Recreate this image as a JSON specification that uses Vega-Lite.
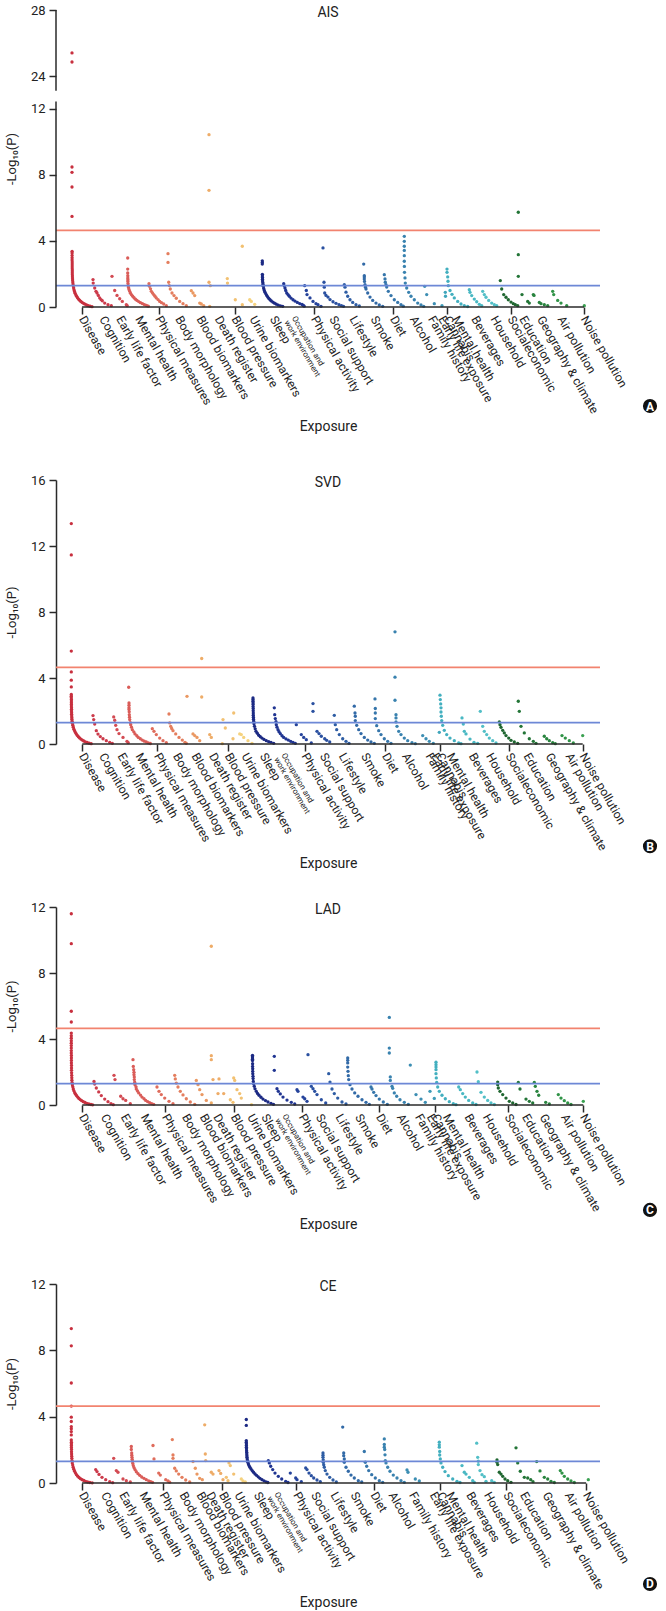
{
"$schema":"https://vega.github.io/schema/vega-lite/v6.json",
"background":"white",
"padding":{"left":5,"top":4,"right":2,"bottom":2},
"config":{"view":{"stroke":null},"font":"Roboto","axis":{"grid":false,"domainColor":"#2a2a2a","tickColor":"#2a2a2a","labelColor":"#222","titleColor":"#222","domainWidth":1.5,"tickWidth":1.5}},
"datasets":{
"L":[{"t":"Disease","a":26.1,"b":26.3,"c":26.3,"d":26.1},{"t":"Cognition","a":46.5,"b":46.3,"c":48,"d":48.2},{"t":"Early life factor","a":63.4,"b":64.7,"c":68,"d":66.4},{"t":"Mental health","a":82.5,"b":82.7,"c":88,"d":86.8},{"t":"Physical measures","a":102.5,"b":101.3,"c":109.3,"d":106.7},{"t":"Body morphology","a":122.4,"b":120.3,"c":129.3,"d":126.6},{"t":"Blood biomarkers","a":143.6,"b":138.7,"c":147,"d":143.6},{"t":"Death register","a":161.9,"b":156.3,"c":160.5,"d":153.4},{"t":"Blood pressure","a":178.8,"b":172,"c":178,"d":166.1},{"t":"Urine biomarkers","a":196.7,"b":188.7,"c":194.5,"d":181.8},{"t":"Sleep","a":217,"b":207,"c":208.5,"d":200.9},{"t":"Physical activity","a":258.2,"b":248.7,"c":246,"d":240.4},{"t":"Social support","a":276.4,"b":267,"c":263,"d":258.2},{"t":"Lifestyle","a":296.8,"b":286,"c":282.7,"d":277.7},{"t":"Smoke","a":317.6,"b":308.3,"c":302.3,"d":297.6},{"t":"Diet","a":337.1,"b":329.3,"c":323.3,"d":317.6},{"t":"Alcohol","a":357,"b":349.3,"c":344,"d":335.8},{"t":"Family history","a":375.3,"b":372.7,"c":362.3,"d":356.2},{"t":"Early life exposure","a":385.4,"b":378.5,"c":374,"d":377},{"t":"Cannabis","a":391,"b":383.5,"c":379,"d":384},{"t":"Mental health","a":399.5,"b":394,"c":390,"d":393.5},{"t":"Beverages","a":418.5,"b":416,"c":411.7,"d":413.4},{"t":"Household","a":437.6,"b":433.3,"c":430,"d":431.3},{"t":"Socialeconomic","a":454.6,"b":452.7,"c":451.7,"d":450.4},{"t":"Education","a":466.5,"b":470.7,"c":469.3,"d":467.3},{"t":"Geography & climate","a":484.3,"b":492.7,"c":486.7,"d":489.8},{"t":"Air pollution","a":504.7,"b":512.7,"c":508.3,"d":511.9},{"t":"Noise pollution","a":528,"b":526.7,"c":527.3,"d":530.1}],
"A":[{"x":16,"y":25.4},{"x":16,"y":24.85},{"x":16,"y":8.48},{"x":16,"y":8.16},{"x":16,"y":7.27},{"x":16,"y":5.49},{"x":16.1,"y":3.37},{"x":16.1,"y":3.27},{"x":16.1,"y":3.12},{"x":16.1,"y":2.98},{"x":16.1,"y":2.85},{"x":16.2,"y":2.72},{"x":16.2,"y":2.6},{"x":16.2,"y":2.48},{"x":16.2,"y":2.36},{"x":16.3,"y":2.24},{"x":16.3,"y":2.12},{"x":16.3,"y":2},{"x":16.4,"y":1.88},{"x":16.5,"y":1.76},{"x":16.6,"y":1.64},{"x":16.8,"y":1.52},{"x":17,"y":1.4},{"x":17.3,"y":1.28},{"x":17.6,"y":1.16},{"x":18,"y":1.05},{"x":18.5,"y":0.94},{"x":19.1,"y":0.84},{"x":19.8,"y":0.74},{"x":20.6,"y":0.65},{"x":21.5,"y":0.56},{"x":22.5,"y":0.48},{"x":23.6,"y":0.41},{"x":24.8,"y":0.34},{"x":26.1,"y":0.28},{"x":27.5,"y":0.22},{"x":29,"y":0.17},{"x":30.6,"y":0.12},{"x":32.3,"y":0.08},{"x":34.1,"y":0.05},{"x":36,"y":0.02},
{"x":37,"y":1.66},{"x":37.2,"y":1.45},{"x":38.7,"y":1.15},{"x":40,"y":0.95},{"x":41,"y":0.85},{"x":42.3,"y":0.7},{"x":43.7,"y":0.55},{"x":45,"y":0.45},{"x":46.3,"y":0.38},{"x":48.7,"y":0.24},{"x":52,"y":0.14},{"x":55.3,"y":0.08},
{"x":56,"y":1.86},{"x":58.7,"y":1},{"x":61,"y":0.7},{"x":63.7,"y":0.5},{"x":66.3,"y":0.34},{"x":70.3,"y":0.14},{"x":71.2,"y":0.08},
{"x":71.7,"y":2.97},{"x":71.7,"y":2.3},{"x":71.7,"y":2.06},{"x":71.8,"y":1.9},{"x":71.8,"y":1.76},{"x":71.9,"y":1.65},{"x":71.9,"y":1.55},{"x":72,"y":1.42},{"x":72.2,"y":1.3},{"x":72.5,"y":1.18},{"x":73,"y":1.06},{"x":73.7,"y":0.95},{"x":74.5,"y":0.84},{"x":75.5,"y":0.74},{"x":76.7,"y":0.65},{"x":78,"y":0.56},{"x":79.5,"y":0.47},{"x":81,"y":0.4},{"x":82.7,"y":0.33},{"x":84.5,"y":0.26},{"x":86.5,"y":0.2},{"x":88.5,"y":0.14},{"x":90.5,"y":0.09},{"x":92.3,"y":0.05},
{"x":93,"y":1.41},{"x":93.5,"y":1.25},{"x":94.5,"y":1.1},{"x":95.3,"y":0.95},{"x":96.5,"y":0.85},{"x":97.7,"y":0.75},{"x":99,"y":0.65},{"x":100.3,"y":0.55},{"x":102,"y":0.45},{"x":103.7,"y":0.34},{"x":105.5,"y":0.26},{"x":107.7,"y":0.18},{"x":110.3,"y":0.08},
{"x":112,"y":3.23},{"x":112,"y":2.7},{"x":112.7,"y":1.5},{"x":113.3,"y":1.3},{"x":114.3,"y":1.09},{"x":116,"y":0.85},{"x":118,"y":0.69},{"x":120.3,"y":0.53},{"x":123.7,"y":0.34},{"x":127,"y":0.2},{"x":130.3,"y":0.08},
{"x":135.3,"y":0.99},{"x":137,"y":0.85},{"x":138.7,"y":0.69},{"x":143.7,"y":0.24},{"x":145.3,"y":0.18},{"x":147.7,"y":0.08},
{"x":153,"y":10.44},{"x":153,"y":7.07},{"x":153,"y":1.5},{"x":154.3,"y":1.29},{"x":153.7,"y":0.04},
{"x":171.3,"y":1.72},{"x":171.5,"y":1.45},{"x":179.3,"y":0.44},{"x":186.3,"y":3.68},{"x":186.3,"y":0.14},
{"x":193.7,"y":0.44},{"x":195.3,"y":0.34},{"x":198.7,"y":0.16},
{"x":206.3,"y":2.8},{"x":206.3,"y":2.7},{"x":206.3,"y":2.6},{"x":206.4,"y":1.98},{"x":206.4,"y":1.88},{"x":206.5,"y":1.78},{"x":206.5,"y":1.68},{"x":206.6,"y":1.58},{"x":206.8,"y":1.48},{"x":207,"y":1.38},{"x":207.3,"y":1.25},{"x":207.7,"y":1.12},{"x":208.3,"y":1},{"x":209,"y":0.9},{"x":209.8,"y":0.8},{"x":210.7,"y":0.7},{"x":211.7,"y":0.61},{"x":212.8,"y":0.52},{"x":214,"y":0.44},{"x":215.3,"y":0.37},{"x":216.8,"y":0.3},{"x":218.5,"y":0.23},{"x":220.3,"y":0.17},{"x":222.3,"y":0.11},{"x":224.5,"y":0.07},{"x":226.7,"y":0.04},
{"x":227.7,"y":1.41},{"x":228.3,"y":1.28},{"x":229,"y":1.15},{"x":229.7,"y":1},{"x":230.7,"y":0.85},{"x":232,"y":0.75},{"x":233.3,"y":0.65},{"x":235,"y":0.54},{"x":237,"y":0.44},{"x":239,"y":0.36},{"x":241.3,"y":0.28},{"x":243.7,"y":0.21},{"x":246,"y":0.15},{"x":247.3,"y":0.09},{"x":248.2,"y":0.05},
{"x":248.7,"y":1.29},{"x":250.3,"y":1},{"x":251,"y":0.75},{"x":254,"y":0.55},{"x":257,"y":0.34},{"x":260,"y":0.2},{"x":262,"y":0.14},{"x":265,"y":0.04},
{"x":267,"y":3.58},{"x":268,"y":1.5},{"x":268.3,"y":1.2},{"x":268.7,"y":0.85},{"x":270,"y":0.7},{"x":272,"y":0.6},{"x":274,"y":0.45},{"x":277,"y":0.32},{"x":280,"y":0.22},{"x":283,"y":0.14},{"x":285.5,"y":0.08},{"x":287.5,"y":0.04},
{"x":288.3,"y":1.35},{"x":289,"y":1.2},{"x":290,"y":0.9},{"x":291.7,"y":0.65},{"x":294,"y":0.44},{"x":296.7,"y":0.28},{"x":300,"y":0.14},{"x":303.3,"y":0.06},
{"x":307.7,"y":2.6},{"x":308.3,"y":1.9},{"x":308.3,"y":1.82},{"x":308.3,"y":1.7},{"x":308.5,"y":1.55},{"x":309,"y":1.35},{"x":309.5,"y":1.2},{"x":310,"y":1.09},{"x":311.7,"y":0.85},{"x":314,"y":0.6},{"x":316.7,"y":0.4},{"x":320,"y":0.24},{"x":323.3,"y":0.12},{"x":326.7,"y":0.04},
{"x":328.3,"y":1.96},{"x":329,"y":1.7},{"x":329.3,"y":1.5},{"x":330,"y":1.35},{"x":330.7,"y":1.21},{"x":332.3,"y":0.95},{"x":335,"y":0.69},{"x":338.3,"y":0.44},{"x":341.7,"y":0.28},{"x":345,"y":0.14},{"x":347.3,"y":0.05},
{"x":348.3,"y":4.28},{"x":348.3,"y":3.98},{"x":348.3,"y":3.68},{"x":348.3,"y":3.43},{"x":348.3,"y":3.11},{"x":348.3,"y":2.77},{"x":348.4,"y":2.46},{"x":348.5,"y":2.1},{"x":349,"y":1.76},{"x":349.3,"y":1.45},{"x":350.7,"y":1.15},{"x":352.7,"y":0.89},{"x":355,"y":0.65},{"x":358.3,"y":0.44},{"x":361.7,"y":0.24},{"x":365,"y":0.12},{"x":367.7,"y":0.04},
{"x":368.7,"y":1.25},{"x":370.7,"y":0.75},{"x":378.3,"y":0.2},
{"x":386,"y":0.08},
{"x":389.3,"y":0.89},{"x":389.5,"y":0.65},
{"x":391,"y":2.3},{"x":391,"y":2.1},{"x":391.7,"y":1.82},{"x":392,"y":1.56},{"x":392.3,"y":1.29},{"x":394,"y":1},{"x":396,"y":0.77},{"x":398.3,"y":0.55},{"x":401.7,"y":0.34},{"x":405,"y":0.18},{"x":408.3,"y":0.08},{"x":411.7,"y":0.03},
{"x":413.3,"y":1.05},{"x":414,"y":0.89},{"x":415.7,"y":0.69},{"x":418.3,"y":0.48},{"x":420.7,"y":0.32},{"x":423.3,"y":0.16},{"x":425.7,"y":0.08},
{"x":426.7,"y":0.95},{"x":428.3,"y":0.75},{"x":430,"y":0.59},{"x":432.7,"y":0.4},{"x":435.7,"y":0.24},{"x":438.3,"y":0.14},{"x":440.7,"y":0.08},
{"x":444.3,"y":1.6},{"x":445.7,"y":1.09},{"x":447.7,"y":0.75},{"x":450,"y":0.59},{"x":452.3,"y":0.44},{"x":455,"y":0.3},{"x":457.3,"y":0.2},{"x":459.3,"y":0.14},{"x":461.7,"y":0.08},
{"x":462.3,"y":5.74},{"x":462.3,"y":3.17},{"x":462.3,"y":1.86},{"x":466,"y":0.75},{"x":471.7,"y":0.34},{"x":473.3,"y":0.24},
{"x":477.3,"y":0.75},{"x":478,"y":0.7},{"x":483.3,"y":0.28},{"x":485,"y":0.2},{"x":488.3,"y":0.14},{"x":491.7,"y":0.08},
{"x":496.7,"y":0.95},{"x":497.7,"y":0.75},{"x":501.7,"y":0.4},{"x":505,"y":0.24},{"x":510.7,"y":0.08},
{"x":528.3,"y":0.08}],
"B":[{"x":15.3,"y":13.36},{"x":15.3,"y":11.46},{"x":15.3,"y":5.63},{"x":15.3,"y":4.37},{"x":15.3,"y":3.87},{"x":15.3,"y":3.46},{"x":15.3,"y":3},{"x":15.3,"y":2.9},{"x":15.3,"y":2.8},{"x":15.4,"y":2.7},{"x":15.4,"y":2.6},{"x":15.4,"y":2.5},{"x":15.4,"y":2.4},{"x":15.4,"y":2.3},{"x":15.5,"y":2.2},{"x":15.5,"y":2.1},{"x":15.5,"y":2},{"x":15.6,"y":1.9},{"x":15.6,"y":1.8},{"x":15.7,"y":1.7},{"x":15.8,"y":1.6},{"x":15.9,"y":1.5},{"x":16.1,"y":1.38},{"x":16.4,"y":1.26},{"x":16.8,"y":1.14},{"x":17.3,"y":1.02},{"x":17.9,"y":0.9},{"x":18.6,"y":0.8},{"x":19.4,"y":0.7},{"x":20.3,"y":0.61},{"x":21.3,"y":0.52},{"x":22.4,"y":0.44},{"x":23.6,"y":0.37},{"x":24.9,"y":0.3},{"x":26.3,"y":0.24},{"x":27.8,"y":0.18},{"x":29.4,"y":0.13},{"x":31.2,"y":0.09},{"x":33.2,"y":0.05},{"x":35.2,"y":0.02},
{"x":37,"y":1.72},{"x":37.7,"y":1.48},{"x":38.7,"y":1.21},{"x":40.3,"y":0.81},{"x":42,"y":0.6},{"x":44.3,"y":0.45},{"x":47,"y":0.32},{"x":50.3,"y":0.2},{"x":53.7,"y":0.1},{"x":56.3,"y":0.04},
{"x":57.7,"y":1.64},{"x":58.7,"y":1.44},{"x":59.7,"y":1.13},{"x":61,"y":0.87},{"x":63,"y":0.63},{"x":67,"y":0.4},{"x":71,"y":0.16},{"x":72.2,"y":0.08},
{"x":72.7,"y":3.44},{"x":73,"y":2.49},{"x":73,"y":2.35},{"x":73,"y":2.2},{"x":73,"y":2.09},{"x":73.2,"y":1.95},{"x":73.3,"y":1.78},{"x":73.5,"y":1.62},{"x":73.7,"y":1.48},{"x":74.3,"y":1.3},{"x":74.7,"y":1.17},{"x":75.5,"y":1.02},{"x":76.3,"y":0.87},{"x":77.8,"y":0.74},{"x":79,"y":0.61},{"x":80.8,"y":0.5},{"x":82.3,"y":0.4},{"x":84.3,"y":0.32},{"x":86.3,"y":0.24},{"x":88.3,"y":0.17},{"x":90.3,"y":0.12},{"x":92.3,"y":0.07},{"x":94.3,"y":0.03},
{"x":96.3,"y":0.93},{"x":98,"y":0.77},{"x":100.3,"y":0.57},{"x":103.7,"y":0.36},{"x":107,"y":0.2},{"x":110.3,"y":0.08},
{"x":113,"y":1.82},{"x":113.7,"y":1.28},{"x":114.7,"y":1.07},{"x":115.7,"y":0.94},{"x":117,"y":0.81},{"x":119.7,"y":0.61},{"x":123,"y":0.4},{"x":126.3,"y":0.24},{"x":129,"y":0.1},{"x":130.3,"y":0.04},
{"x":131,"y":2.89},{"x":137,"y":0.61},{"x":138.7,"y":0.51},{"x":141,"y":0.4},{"x":143.7,"y":0.2},
{"x":145.7,"y":5.18},{"x":145.7,"y":2.85},{"x":153.7,"y":0.57},{"x":155.3,"y":0.4},
{"x":166.3,"y":0.02},{"x":167,"y":1.48},{"x":169.3,"y":0.97},{"x":177,"y":0.32},{"x":177.7,"y":1.88},
{"x":183.7,"y":0.61},{"x":185.3,"y":0.57},{"x":187.7,"y":0.4},{"x":192,"y":0.2},{"x":196,"y":0.04},
{"x":197,"y":2.79},{"x":197,"y":2.69},{"x":197,"y":2.59},{"x":197.1,"y":2.49},{"x":197.1,"y":2.39},{"x":197.1,"y":2.27},{"x":197.2,"y":2.15},{"x":197.2,"y":2.02},{"x":197.3,"y":1.88},{"x":197.3,"y":1.75},{"x":197.4,"y":1.62},{"x":197.5,"y":1.5},{"x":197.7,"y":1.38},{"x":198,"y":1.22},{"x":198.5,"y":1.07},{"x":199.2,"y":0.92},{"x":200,"y":0.77},{"x":201.3,"y":0.65},{"x":202.7,"y":0.53},{"x":204.3,"y":0.44},{"x":206,"y":0.36},{"x":208,"y":0.28},{"x":210.3,"y":0.2},{"x":212.7,"y":0.14},{"x":215,"y":0.1},{"x":217.7,"y":0.04},
{"x":218.3,"y":2.19},{"x":218.7,"y":1.78},{"x":219.3,"y":1.54},{"x":220,"y":1.35},{"x":220.3,"y":1.17},{"x":221,"y":1.02},{"x":222,"y":0.87},{"x":223,"y":0.75},{"x":224.3,"y":0.63},{"x":226,"y":0.5},{"x":227.7,"y":0.4},{"x":230,"y":0.31},{"x":232.3,"y":0.24},{"x":234.7,"y":0.16},{"x":237,"y":0.1},{"x":239.3,"y":0.04},
{"x":240.3,"y":1.17},{"x":245.3,"y":0.57},{"x":247.7,"y":0.4},{"x":250.3,"y":0.26},{"x":255.3,"y":0.06},
{"x":257,"y":2.45},{"x":257,"y":1.98},{"x":261,"y":0.77},{"x":263,"y":0.63},{"x":265.3,"y":0.47},{"x":268.7,"y":0.32},{"x":270.7,"y":0.22},{"x":273.7,"y":0.12},
{"x":278.3,"y":1.74},{"x":279.3,"y":1.17},{"x":280.7,"y":0.87},{"x":283.3,"y":0.57},{"x":286.7,"y":0.32},{"x":290,"y":0.16},{"x":293,"y":0.04},
{"x":298.3,"y":2.29},{"x":299,"y":1.88},{"x":299.3,"y":1.68},{"x":299.3,"y":1.42},{"x":300.7,"y":1.13},{"x":302.7,"y":0.87},{"x":305,"y":0.63},{"x":308.3,"y":0.4},{"x":311.7,"y":0.24},{"x":315,"y":0.12},{"x":318.3,"y":0.04},
{"x":319,"y":2.73},{"x":319.3,"y":2.15},{"x":319.3,"y":1.88},{"x":319.3,"y":1.54},{"x":320.7,"y":1.11},{"x":322.7,"y":0.81},{"x":325,"y":0.57},{"x":328.3,"y":0.32},{"x":331.7,"y":0.16},{"x":335,"y":0.04},
{"x":339,"y":6.8},{"x":339,"y":4.05},{"x":339,"y":2.65},{"x":340,"y":1.78},{"x":340,"y":1.58},{"x":340,"y":1.34},{"x":341,"y":1.07},{"x":342.7,"y":0.77},{"x":345,"y":0.57},{"x":348.3,"y":0.36},{"x":351.7,"y":0.2},{"x":356,"y":0.08},{"x":359.3,"y":0.02},
{"x":366.7,"y":0.51},{"x":370,"y":0.32},{"x":373.3,"y":0.16},{"x":377.3,"y":0.04},
{"x":383.3,"y":0.71},
{"x":384,"y":2.96},{"x":384.3,"y":2.69},{"x":384.7,"y":2.43},{"x":385,"y":2.19},{"x":385,"y":1.94},{"x":385.3,"y":1.68},{"x":385.7,"y":1.42},{"x":386.7,"y":1.13},{"x":388.3,"y":0.83},{"x":390.7,"y":0.57},{"x":394,"y":0.36},{"x":398.3,"y":0.2},{"x":402.7,"y":0.06},{"x":405,"y":0.02},
{"x":406,"y":1.58},{"x":407.3,"y":1.21},{"x":408.3,"y":0.77},{"x":410,"y":0.61},{"x":414,"y":0.3},{"x":418,"y":0.1},{"x":421.7,"y":0.04},
{"x":424.3,"y":1.98},{"x":426.7,"y":1.07},{"x":428.3,"y":0.77},{"x":430.7,"y":0.57},{"x":433.3,"y":0.36},{"x":436.7,"y":0.2},{"x":440,"y":0.06},
{"x":443.3,"y":1.34},{"x":444,"y":1.17},{"x":445,"y":1.01},{"x":446.7,"y":0.83},{"x":448.3,"y":0.67},{"x":450,"y":0.51},{"x":452.7,"y":0.36},{"x":455,"y":0.22},{"x":458.3,"y":0.12},{"x":461.7,"y":0.04},
{"x":462.3,"y":2.59},{"x":463.3,"y":1.98},{"x":465,"y":1.07},{"x":468.3,"y":0.67},{"x":473.3,"y":0.32},{"x":477.3,"y":0.16},{"x":480,"y":0.04},
{"x":488.3,"y":0.47},{"x":490.7,"y":0.32},{"x":493.3,"y":0.2},{"x":496.7,"y":0.08},{"x":499.3,"y":0.02},
{"x":506,"y":0.51},{"x":509.3,"y":0.36},{"x":513.3,"y":0.2},{"x":517.3,"y":0.06},
{"x":526.7,"y":0.51}],
"C":[{"x":15.3,"y":11.59},{"x":15.3,"y":9.78},{"x":15.3,"y":5.68},{"x":15.3,"y":5.03},{"x":15.3,"y":4.36},{"x":15.3,"y":4.2},{"x":15.3,"y":4.05},{"x":15.3,"y":3.9},{"x":15.3,"y":3.75},{"x":15.3,"y":3.6},{"x":15.3,"y":3.45},{"x":15.3,"y":3.3},{"x":15.3,"y":3.15},{"x":15.4,"y":3},{"x":15.4,"y":2.85},{"x":15.4,"y":2.7},{"x":15.4,"y":2.55},{"x":15.5,"y":2.4},{"x":15.5,"y":2.25},{"x":15.5,"y":2.1},{"x":15.6,"y":1.95},{"x":15.7,"y":1.8},{"x":15.8,"y":1.65},{"x":15.9,"y":1.5},{"x":16.1,"y":1.36},{"x":16.4,"y":1.22},{"x":16.8,"y":1.1},{"x":17.3,"y":0.97},{"x":17.9,"y":0.86},{"x":18.7,"y":0.75},{"x":19.6,"y":0.65},{"x":20.6,"y":0.56},{"x":21.7,"y":0.48},{"x":22.9,"y":0.4},{"x":24.2,"y":0.33},{"x":25.7,"y":0.26},{"x":27.3,"y":0.2},{"x":29,"y":0.15},{"x":30.9,"y":0.1},{"x":32.9,"y":0.06},{"x":35,"y":0.03},{"x":36.7,"y":0.01},
{"x":38,"y":1.43},{"x":38.7,"y":1.27},{"x":40.3,"y":1.03},{"x":42.7,"y":0.79},{"x":45.3,"y":0.57},{"x":48.7,"y":0.36},{"x":52,"y":0.2},{"x":55,"y":0.08},{"x":57.3,"y":0.02},
{"x":58,"y":1.8},{"x":59,"y":1.54},{"x":64.7,"y":0.53},{"x":67,"y":0.38},{"x":69.7,"y":0.28},{"x":74.3,"y":0.08},
{"x":77,"y":2.75},{"x":77.3,"y":2.34},{"x":77.7,"y":2.14},{"x":78,"y":1.98},{"x":78,"y":1.84},{"x":78.3,"y":1.69},{"x":78.3,"y":1.54},{"x":78.7,"y":1.38},{"x":79,"y":1.23},{"x":80,"y":1.1},{"x":80.3,"y":0.97},{"x":81.5,"y":0.85},{"x":82.7,"y":0.73},{"x":84.5,"y":0.6},{"x":86,"y":0.48},{"x":88,"y":0.38},{"x":89.7,"y":0.28},{"x":91.7,"y":0.2},{"x":93.7,"y":0.14},{"x":95.7,"y":0.08},{"x":97.7,"y":0.04},
{"x":101,"y":1.09},{"x":103,"y":0.83},{"x":105.3,"y":0.63},{"x":108.7,"y":0.42},{"x":113,"y":0.22},{"x":117,"y":0.08},
{"x":118.7,"y":1.8},{"x":119.3,"y":1.58},{"x":120.3,"y":1.33},{"x":122,"y":1.09},{"x":124.3,"y":0.83},{"x":127,"y":0.61},{"x":130.3,"y":0.38},{"x":134.3,"y":0.18},{"x":138.7,"y":0.04},
{"x":140.3,"y":1.49},{"x":142,"y":1.23},{"x":143.7,"y":0.93},{"x":146,"y":0.63},{"x":150.3,"y":0.28},
{"x":155.3,"y":9.62},{"x":155.3,"y":2.99},{"x":155.3,"y":2.75},{"x":157,"y":1.54},{"x":155.3,"y":0.12},{"x":163,"y":1.58},{"x":162,"y":0.69},{"x":167.7,"y":0.69},
{"x":174.3,"y":0.32},{"x":177,"y":0.16},{"x":177.7,"y":1.64},{"x":178.7,"y":1.49},{"x":181,"y":0.93},{"x":183.7,"y":0.69},{"x":185.3,"y":0.42},
{"x":195.5,"y":0.02},
{"x":196.5,"y":3.01},{"x":196.5,"y":2.93},{"x":196.5,"y":2.85},{"x":196.5,"y":2.77},{"x":196.5,"y":2.69},{"x":196.6,"y":2.5},{"x":196.6,"y":2.34},{"x":196.7,"y":2.2},{"x":196.7,"y":2.04},{"x":196.8,"y":1.9},{"x":197,"y":1.74},{"x":197.1,"y":1.6},{"x":197.3,"y":1.43},{"x":197.7,"y":1.28},{"x":198.3,"y":1.13},{"x":199,"y":0.98},{"x":200.3,"y":0.83},{"x":201.5,"y":0.7},{"x":203,"y":0.59},{"x":205,"y":0.47},{"x":207,"y":0.36},{"x":209.5,"y":0.27},{"x":212,"y":0.18},{"x":215,"y":0.1},{"x":217.5,"y":0.04},
{"x":218.3,"y":2.95},{"x":218.3,"y":2.1},{"x":221,"y":0.99},{"x":222.3,"y":0.83},{"x":224.3,"y":0.67},{"x":227,"y":0.48},{"x":231,"y":0.3},{"x":235.3,"y":0.16},{"x":238.7,"y":0.06},
{"x":241,"y":0.93},{"x":242,"y":0.83},{"x":247,"y":0.48},{"x":248.7,"y":0.38},{"x":251,"y":0.22},
{"x":252,"y":3.05},{"x":255.3,"y":1.13},{"x":257,"y":0.99},{"x":258.7,"y":0.83},{"x":261,"y":0.63},{"x":265.3,"y":0.32},{"x":269.7,"y":0.12},
{"x":272.7,"y":1.9},{"x":274,"y":1.39},{"x":276,"y":0.97},{"x":278.3,"y":0.69},{"x":281.7,"y":0.42},{"x":286,"y":0.18},{"x":290,"y":0.06},
{"x":291.7,"y":2.85},{"x":291.7,"y":2.71},{"x":291.7,"y":2.55},{"x":291.7,"y":2.3},{"x":292,"y":2.04},{"x":292.3,"y":1.78},{"x":292.7,"y":1.54},{"x":294,"y":1.23},{"x":296,"y":0.97},{"x":298.7,"y":0.73},{"x":302,"y":0.53},{"x":306,"y":0.32},{"x":310,"y":0.16},{"x":313.3,"y":0.04},
{"x":315,"y":1.09},{"x":316,"y":0.97},{"x":317.7,"y":0.77},{"x":320,"y":0.57},{"x":323.3,"y":0.36},{"x":327.3,"y":0.18},{"x":331.3,"y":0.04},
{"x":333.3,"y":5.31},{"x":333.3,"y":3.45},{"x":333.3,"y":3.15},{"x":334.3,"y":1.7},{"x":334.3,"y":1.49},{"x":336,"y":1.13},{"x":336.7,"y":1.01},{"x":338.3,"y":0.73},{"x":340.7,"y":0.53},{"x":344,"y":0.32},{"x":348.3,"y":0.16},{"x":352.3,"y":0.04},
{"x":354.3,"y":2.42},{"x":360,"y":0.63},{"x":365,"y":0.36},{"x":369.3,"y":0.16},
{"x":374,"y":0.83},{"x":378.3,"y":0.4},
{"x":380,"y":2.59},{"x":380,"y":2.44},{"x":380,"y":2.3},{"x":380,"y":2.14},{"x":380,"y":1.9},{"x":380.3,"y":1.64},{"x":380.7,"y":1.37},{"x":381.7,"y":1.09},{"x":383.3,"y":0.83},{"x":386,"y":0.59},{"x":389.3,"y":0.38},{"x":393.3,"y":0.2},{"x":397.3,"y":0.08},{"x":400,"y":0.02},
{"x":402.7,"y":1.09},{"x":404.3,"y":0.93},{"x":406.7,"y":0.69},{"x":409.3,"y":0.48},{"x":412.7,"y":0.28},{"x":416.7,"y":0.12},{"x":420,"y":0.03},
{"x":421,"y":2},{"x":422.3,"y":1.41},{"x":425,"y":0.77},{"x":428.3,"y":0.48},{"x":431.7,"y":0.28},{"x":435,"y":0.12},{"x":438.3,"y":0.03},
{"x":441.7,"y":1.39},{"x":441.7,"y":1.23},{"x":442.3,"y":1.03},{"x":444,"y":0.83},{"x":446.7,"y":0.63},{"x":450,"y":0.42},{"x":453.3,"y":0.22},{"x":456.7,"y":0.12},{"x":460,"y":0.03},
{"x":462.3,"y":1.37},{"x":464,"y":0.97},{"x":470,"y":0.36},{"x":473.3,"y":0.22},{"x":476.7,"y":0.12},
{"x":478.3,"y":1.37},{"x":479.3,"y":1.13},{"x":481,"y":0.83},{"x":482.7,"y":0.59},{"x":489.7,"y":0.16},{"x":493.3,"y":0.06},
{"x":502.3,"y":0.63},{"x":505,"y":0.42},{"x":508.3,"y":0.26},{"x":511.7,"y":0.12},{"x":515,"y":0.03},
{"x":527.3,"y":0.22}],
"D":[{"x":15.3,"y":9.31},{"x":15.3,"y":8.27},{"x":15.3,"y":6.03},{"x":15.3,"y":4.64},{"x":15.3,"y":3.97},{"x":15.3,"y":3.71},{"x":15.3,"y":3.4},{"x":15.3,"y":3.27},{"x":15.3,"y":3.1},{"x":15.3,"y":2.9},{"x":15.3,"y":2.6},{"x":15.4,"y":2.46},{"x":15.4,"y":2.36},{"x":15.4,"y":2.26},{"x":15.4,"y":2.14},{"x":15.5,"y":2.02},{"x":15.5,"y":1.88},{"x":15.6,"y":1.75},{"x":15.7,"y":1.62},{"x":15.8,"y":1.49},{"x":16,"y":1.35},{"x":16.3,"y":1.21},{"x":16.7,"y":1.08},{"x":17.2,"y":0.95},{"x":17.8,"y":0.83},{"x":18.6,"y":0.71},{"x":19.5,"y":0.6},{"x":20.5,"y":0.5},{"x":21.7,"y":0.41},{"x":23,"y":0.33},{"x":24.5,"y":0.26},{"x":26.1,"y":0.2},{"x":27.8,"y":0.15},{"x":29.6,"y":0.1},{"x":31.6,"y":0.06},{"x":33.8,"y":0.03},{"x":36.2,"y":0.01},
{"x":39.7,"y":0.81},{"x":41,"y":0.69},{"x":43,"y":0.52},{"x":46,"y":0.34},{"x":49.7,"y":0.2},{"x":53.7,"y":0.08},{"x":56.7,"y":0.02},
{"x":57.7,"y":1.49},{"x":60.3,"y":0.75},{"x":62,"y":0.65},{"x":67,"y":0.24},{"x":70.3,"y":0.14},{"x":74.3,"y":0.06},
{"x":75.3,"y":2.2},{"x":75.3,"y":2.02},{"x":75.7,"y":1.81},{"x":75.8,"y":1.68},{"x":76,"y":1.55},{"x":76.2,"y":1.43},{"x":76.3,"y":1.31},{"x":76.8,"y":1.18},{"x":77.3,"y":1.05},{"x":78,"y":0.93},{"x":79,"y":0.81},{"x":80.3,"y":0.68},{"x":82,"y":0.56},{"x":83.7,"y":0.46},{"x":85.7,"y":0.36},{"x":88,"y":0.28},{"x":90.3,"y":0.2},{"x":92.7,"y":0.13},{"x":94.7,"y":0.08},{"x":96.5,"y":0.04},
{"x":97,"y":2.26},{"x":98,"y":1.45},{"x":102.7,"y":0.6},{"x":104.3,"y":0.48},{"x":109.7,"y":0.2},{"x":112,"y":0.12},{"x":113.7,"y":0.05},
{"x":116.3,"y":2.62},{"x":117,"y":1.69},{"x":117,"y":1.49},{"x":118.7,"y":0.89},{"x":120.3,"y":0.73},{"x":122.7,"y":0.54},{"x":126,"y":0.34},{"x":129.7,"y":0.18},{"x":133.7,"y":0.06},
{"x":137,"y":1.29},{"x":139.3,"y":0.89},{"x":141,"y":0.54},{"x":143.7,"y":0.28},{"x":146.3,"y":0.2},
{"x":148.7,"y":3.51},{"x":149.3,"y":1.75},{"x":149.7,"y":1.35},{"x":155.3,"y":0.65},{"x":157,"y":0.54},{"x":163,"y":0.75},{"x":164.7,"y":0.58},{"x":167,"y":0.2},
{"x":170.3,"y":0.34},{"x":172,"y":0.14},{"x":173,"y":1.21},{"x":174.3,"y":1.05},{"x":177.7,"y":0.54},
{"x":185.3,"y":0.24},{"x":187,"y":0.12},{"x":189.3,"y":0.06},
{"x":190.3,"y":3.83},{"x":190.3,"y":3.47},{"x":190.3,"y":2.56},{"x":190.3,"y":2.46},{"x":190.4,"y":2.36},{"x":190.4,"y":2.26},{"x":190.4,"y":2.16},{"x":190.5,"y":2.06},{"x":190.6,"y":1.95},{"x":190.7,"y":1.85},{"x":190.8,"y":1.75},{"x":190.9,"y":1.65},{"x":191,"y":1.55},{"x":191.2,"y":1.45},{"x":191.5,"y":1.35},{"x":191.8,"y":1.25},{"x":192.4,"y":1.15},{"x":193,"y":1.05},{"x":193.9,"y":0.95},{"x":195,"y":0.85},{"x":196.2,"y":0.75},{"x":197.5,"y":0.65},{"x":199,"y":0.55},{"x":200.5,"y":0.46},{"x":202.2,"y":0.37},{"x":204,"y":0.28},{"x":206,"y":0.2},{"x":208,"y":0.13},{"x":210,"y":0.07},{"x":211.8,"y":0.03},
{"x":212.3,"y":1.35},{"x":213.3,"y":1.21},{"x":214.7,"y":1.01},{"x":216.7,"y":0.81},{"x":219,"y":0.6},{"x":222.3,"y":0.4},{"x":225.7,"y":0.24},{"x":229.7,"y":0.1},{"x":232,"y":0.03},
{"x":234.3,"y":0.6},{"x":239.7,"y":0.3},{"x":241,"y":0.2},{"x":245.3,"y":0.08},
{"x":249.7,"y":0.91},{"x":251,"y":0.81},{"x":253,"y":0.6},{"x":255.3,"y":0.44},{"x":257.7,"y":0.3},{"x":261,"y":0.18},{"x":264.3,"y":0.08},
{"x":267,"y":1.81},{"x":267,"y":1.68},{"x":267,"y":1.55},{"x":267.2,"y":1.4},{"x":267.3,"y":1.25},{"x":267.7,"y":1.1},{"x":268.3,"y":0.95},{"x":269.3,"y":0.75},{"x":271,"y":0.54},{"x":273.7,"y":0.34},{"x":277,"y":0.18},{"x":280.3,"y":0.06},
{"x":286.7,"y":3.37},{"x":287.7,"y":1.81},{"x":287.7,"y":1.65},{"x":288.3,"y":1.45},{"x":288.3,"y":1.25},{"x":290,"y":0.95},{"x":292.3,"y":0.71},{"x":295,"y":0.48},{"x":298.3,"y":0.3},{"x":302.3,"y":0.14},{"x":305.7,"y":0.06},
{"x":308.3,"y":1.9},{"x":309.3,"y":1.25},{"x":310.7,"y":1.01},{"x":312.7,"y":0.75},{"x":315.7,"y":0.5},{"x":319.3,"y":0.3},{"x":323.3,"y":0.14},{"x":326.7,"y":0.04},
{"x":328.3,"y":2.66},{"x":328.3,"y":2.32},{"x":328.3,"y":2.16},{"x":328.7,"y":2.02},{"x":329,"y":1.7},{"x":329.3,"y":1.35},{"x":330,"y":1.21},{"x":331.7,"y":0.95},{"x":334,"y":0.71},{"x":337.3,"y":0.48},{"x":341,"y":0.3},{"x":345,"y":0.14},{"x":348.3,"y":0.04},
{"x":351,"y":0.79},{"x":352,"y":0.65},{"x":359.3,"y":0.24},{"x":363.3,"y":0.12},
{"x":383.3,"y":2.46},{"x":383.3,"y":2.3},{"x":383.3,"y":2.16},{"x":383.7,"y":1.9},{"x":383.7,"y":1.69},{"x":384.3,"y":1.45},{"x":385,"y":1.21},{"x":386.7,"y":0.95},{"x":389,"y":0.69},{"x":392.3,"y":0.44},{"x":396.7,"y":0.24},{"x":401,"y":0.1},{"x":404,"y":0.03},
{"x":406,"y":1.05},{"x":408.3,"y":0.65},{"x":410,"y":0.54},{"x":413.3,"y":0.34},{"x":416.7,"y":0.14},{"x":418.3,"y":0.04},
{"x":420.7,"y":2.4},{"x":421.7,"y":1.55},{"x":422.3,"y":1.31},{"x":422.3,"y":1.11},{"x":424,"y":0.75},{"x":426,"y":0.5},{"x":428.3,"y":0.38},{"x":430,"y":0.1},{"x":435.7,"y":0.14},{"x":438.3,"y":0.04},
{"x":441,"y":1.39},{"x":441,"y":1.25},{"x":441.7,"y":1.11},{"x":443.3,"y":0.65},{"x":445,"y":0.54},{"x":446.7,"y":0.4},{"x":449,"y":0.24},{"x":451.7,"y":0.14},{"x":455,"y":0.04},
{"x":460,"y":2.12},{"x":461.7,"y":1.21},{"x":464.3,"y":0.71},{"x":468.3,"y":0.34},{"x":471.7,"y":0.3},{"x":474.7,"y":0.2},{"x":477,"y":0.08},
{"x":480.7,"y":1.29},{"x":484,"y":0.73},{"x":488.3,"y":0.34},{"x":491.7,"y":0.24},{"x":495,"y":0.1},{"x":498.3,"y":0.03},
{"x":504.3,"y":0.75},{"x":506,"y":0.6},{"x":508.3,"y":0.4},{"x":511.7,"y":0.24},{"x":515,"y":0.12},{"x":518.3,"y":0.03},
{"x":532.3,"y":0.2}]
},
"resolve":{"scale":{"x":"independent","y":"independent","color":"independent"}},
"spacing":40,
"vconcat":[
{"width":544,"height":297,
 "title":{"text":"AIS","frame":"group","anchor":"middle","baseline":"middle","offset":-23,"fontSize":14,"fontWeight":"normal","color":"#222"},
 "layer":[
 {"data":{"name":"A"},"mark":{"type":"circle","size":11,"opacity":1},
  "encoding":{
   "x":{"field":"x","type":"quantitative","scale":{"domain":[0,544],"nice":false,"zero":false},
     "axis":{"values":[26.1,46.5,63.4,82.5,102.5,122.4,143.6,161.9,178.8,196.7,217,237.4,258.2,276.4,296.8,317.6,337.1,357,375.3,385.4,391,399.5,418.5,437.6,454.6,466.5,484.3,504.7,528],
      "labels":false,"tickSize":7,"domain":false,"title":"Exposure","titleFontSize":14,"titleFontWeight":"normal","titlePadding":105}},
   "y":{"field":"y","type":"quantitative","scale":{"domain":[0,12.45,23.11,28],"range":[297,91.5,80.7,0],"nice":false,"zero":false},
     "axis":{"values":[0,4,8,12,24,28],"domain":false,"tickSize":7,"labelFontSize":13,"labelPadding":4,"title":"-Log₁₀(P)","titleFontSize":13,"titleFontWeight":"normal","titlePadding":12}},
   "color":{"field":"x","type":"quantitative","legend":null,"scale":{"type":"threshold",
     "domain":[36.5,55.7,71.5,92.5,111.5,132,150,165,190,203,227.5,248.5,266.5,288,307,328,348,368.3,380,388,390,413,426.3,443,462,476,495,520],
     "range":["#c8303f","#cc3b4b","#d34b53","#da5c58","#df6c5c","#e47e5e","#ea9862","#eeac68","#f2c172","#f5d27e","#1c2a84","#203592","#25439b","#2a50a0","#2e5da4","#326aa7","#3676ab","#3982af","#3c8eb3","#3e9ab7","#3fa5bb","#42afbf","#49b8c3","#52bfc7","#1f6630","#237537","#29843f","#309347","#3aa151"]}}}},
 {"data":{"values":[{}]},"mark":{"type":"rule","color":"#f2836f","strokeWidth":1.8},"encoding":{"y":{"datum":4.64}}},
 {"data":{"values":[{}]},"mark":{"type":"rule","color":"#6d88d6","strokeWidth":1.8},"encoding":{"y":{"datum":1.301}}},
 {"data":{"values":[{"a":26.1,"b":528}]},"mark":{"type":"rule","color":"#2a2a2a","strokeWidth":1.5},"encoding":{"x":{"field":"a","type":"quantitative"},"x2":{"field":"b"},"y":{"datum":0}}},
 {"data":{"values":[{"y1":0,"y2":12.45},{"y1":23.11,"y2":28}]},"mark":{"type":"rule","color":"#2a2a2a","strokeWidth":1.5},"encoding":{"x":{"datum":0},"y":{"field":"y1","type":"quantitative"},"y2":{"field":"y2"}}},
 {"data":{"name":"L"},"mark":{"type":"text","angle":60,"align":"left","baseline":"middle","fontSize":12,"color":"#222","yOffset":10},"encoding":{"x":{"field":"a","type":"quantitative"},"y":{"datum":0},"text":{"field":"t"}}},
 {"data":{"values":[{"x":237.4,"t":"Occupation and\nwork environment"}]},"mark":{"type":"text","angle":60,"align":"left","baseline":"middle","fontSize":8,"lineHeight":8.5,"lineBreak":"\n","color":"#222","yOffset":10},"encoding":{"x":{"field":"x","type":"quantitative"},"y":{"datum":0},"text":{"field":"t"}}},
 {"data":{"values":[{"x":594,"y":-6,"t":"A"}]},"mark":{"type":"circle","size":200,"color":"#111","opacity":1},"encoding":{"x":{"field":"x","type":"quantitative"},"y":{"field":"y","type":"quantitative"}}},
 {"data":{"values":[{"x":594,"y":-6,"t":"A"}]},"mark":{"type":"text","color":"white","fontSize":12,"fontWeight":"bold","baseline":"middle","align":"center","dy":0.5},"encoding":{"x":{"field":"x","type":"quantitative"},"y":{"field":"y","type":"quantitative"},"text":{"field":"t"}}}
 ]},
{"resolve":{"scale":{"x":"independent","y":"independent","color":"independent"}},
 "spacing":30,
 "vconcat":[
 {"width":544,"height":264,
  "title":{"text":"SVD","frame":"group","anchor":"middle","baseline":"middle","offset":-23,"fontSize":14,"fontWeight":"normal","color":"#222"},
  "layer":[
  {"data":{"name":"B"},"mark":{"type":"circle","size":11,"opacity":1},
   "encoding":{
    "x":{"field":"x","type":"quantitative","scale":{"domain":[0,544],"nice":false,"zero":false},
      "axis":{"values":[26.3,46.3,64.7,82.7,101.3,120.3,138.7,156.3,172,188.7,207,227,248.7,267,286,308.3,329.3,349.3,372.7,378.5,383.5,394,416,433.3,452.7,470.7,492.7,512.7,526.7],
       "labels":false,"tickSize":7,"domain":false,"title":"Exposure","titleFontSize":14,"titleFontWeight":"normal","titlePadding":105}},
    "y":{"field":"y","type":"quantitative","scale":{"domain":[0,16],"nice":false,"zero":false},
      "axis":{"values":[0,4,8,12,16],"domain":true,"tickSize":7,"labelFontSize":13,"labelPadding":4,"title":"-Log₁₀(P)","titleFontSize":13,"titleFontWeight":"normal","titlePadding":12}},
    "color":{"field":"x","type":"quantitative","legend":null,"scale":{"type":"threshold",
      "domain":[36.5,57.3,72.5,95,112.5,130.7,145,160,181,196.8,218,240,256.5,277,297,318.7,337,363,378,382,383.8,405.5,423.5,442.5,462,485,503,522],
      "range":["#c8303f","#cc3b4b","#d34b53","#da5c58","#df6c5c","#e47e5e","#ea9862","#eeac68","#f2c172","#f5d27e","#1c2a84","#203592","#25439b","#2a50a0","#2e5da4","#326aa7","#3676ab","#3982af","#3c8eb3","#3e9ab7","#3fa5bb","#42afbf","#49b8c3","#52bfc7","#1f6630","#237537","#29843f","#309347","#3aa151"]}}}},
  {"data":{"values":[{}]},"mark":{"type":"rule","color":"#f2836f","strokeWidth":1.8},"encoding":{"y":{"datum":4.64}}},
  {"data":{"values":[{}]},"mark":{"type":"rule","color":"#6d88d6","strokeWidth":1.8},"encoding":{"y":{"datum":1.301}}},
  {"data":{"values":[{"a":26.3,"b":526.7}]},"mark":{"type":"rule","color":"#2a2a2a","strokeWidth":1.5},"encoding":{"x":{"field":"a","type":"quantitative"},"x2":{"field":"b"},"y":{"datum":0}}},
  {"data":{"name":"L"},"mark":{"type":"text","angle":60,"align":"left","baseline":"middle","fontSize":12,"color":"#222","yOffset":10},"encoding":{"x":{"field":"b","type":"quantitative"},"y":{"datum":0},"text":{"field":"t"}}},
  {"data":{"values":[{"x":227,"t":"Occupation and\nwork environment"}]},"mark":{"type":"text","angle":60,"align":"left","baseline":"middle","fontSize":8,"lineHeight":8.5,"lineBreak":"\n","color":"#222","yOffset":10},"encoding":{"x":{"field":"x","type":"quantitative"},"y":{"datum":0},"text":{"field":"t"}}},
  {"data":{"values":[{"x":594,"y":-6.2,"t":"B"}]},"mark":{"type":"circle","size":200,"color":"#111","opacity":1},"encoding":{"x":{"field":"x","type":"quantitative"},"y":{"field":"y","type":"quantitative"}}},
  {"data":{"values":[{"x":594,"y":-6.2,"t":"B"}]},"mark":{"type":"text","color":"white","fontSize":12,"fontWeight":"bold","baseline":"middle","align":"center","dy":0.5},"encoding":{"x":{"field":"x","type":"quantitative"},"y":{"field":"y","type":"quantitative"},"text":{"field":"t"}}}
  ]},
 {"resolve":{"scale":{"x":"independent","y":"independent","color":"independent"}},
  "spacing":46,
  "vconcat":[
  {"width":544,"height":198,
   "title":{"text":"LAD","frame":"group","anchor":"middle","baseline":"middle","offset":-23,"fontSize":14,"fontWeight":"normal","color":"#222"},
   "layer":[
   {"data":{"name":"C"},"mark":{"type":"circle","size":11,"opacity":1},
    "encoding":{
     "x":{"field":"x","type":"quantitative","scale":{"domain":[0,544],"nice":false,"zero":false},
       "axis":{"values":[26.3,48,68,88,109.3,129.3,147,160.5,178,194.5,208.5,228,246,263,282.7,302.3,323.3,344,362.3,374,379,390,411.7,430,451.7,469.3,486.7,508.3,527.3],
        "labels":false,"tickSize":7,"domain":false,"title":"Exposure","titleFontSize":14,"titleFontWeight":"normal","titlePadding":105}},
     "y":{"field":"y","type":"quantitative","scale":{"domain":[0,12],"nice":false,"zero":false},
       "axis":{"values":[0,4,8,12],"domain":true,"tickSize":7,"labelFontSize":13,"labelPadding":4,"title":"-Log₁₀(P)","titleFontSize":13,"titleFontWeight":"normal","titlePadding":12}},
     "color":{"field":"x","type":"quantitative","legend":null,"scale":{"type":"threshold",
       "domain":[37.5,57.7,76,100,118,140,153,170,190,196,218,240.5,251.5,271,291,314.5,333,353.5,372,379.4,379.8,402,420.5,441,461.5,477.8,500,522],
       "range":["#c8303f","#cc3b4b","#d34b53","#da5c58","#df6c5c","#e47e5e","#ea9862","#eeac68","#f2c172","#f5d27e","#1c2a84","#203592","#25439b","#2a50a0","#2e5da4","#326aa7","#3676ab","#3982af","#3c8eb3","#3e9ab7","#3fa5bb","#42afbf","#49b8c3","#52bfc7","#1f6630","#237537","#29843f","#309347","#3aa151"]}}}},
   {"data":{"values":[{}]},"mark":{"type":"rule","color":"#f2836f","strokeWidth":1.8},"encoding":{"y":{"datum":4.64}}},
   {"data":{"values":[{}]},"mark":{"type":"rule","color":"#6d88d6","strokeWidth":1.8},"encoding":{"y":{"datum":1.301}}},
   {"data":{"values":[{"a":26.3,"b":527.3}]},"mark":{"type":"rule","color":"#2a2a2a","strokeWidth":1.5},"encoding":{"x":{"field":"a","type":"quantitative"},"x2":{"field":"b"},"y":{"datum":0}}},
   {"data":{"name":"L"},"mark":{"type":"text","angle":60,"align":"left","baseline":"middle","fontSize":12,"color":"#222","yOffset":10},"encoding":{"x":{"field":"c","type":"quantitative"},"y":{"datum":0},"text":{"field":"t"}}},
   {"data":{"values":[{"x":228,"t":"Occupation and\nwork environment"}]},"mark":{"type":"text","angle":60,"align":"left","baseline":"middle","fontSize":8,"lineHeight":8.5,"lineBreak":"\n","color":"#222","yOffset":10},"encoding":{"x":{"field":"x","type":"quantitative"},"y":{"datum":0},"text":{"field":"t"}}},
   {"data":{"values":[{"x":594,"y":-6.36,"t":"C"}]},"mark":{"type":"circle","size":200,"color":"#111","opacity":1},"encoding":{"x":{"field":"x","type":"quantitative"},"y":{"field":"y","type":"quantitative"}}},
   {"data":{"values":[{"x":594,"y":-6.36,"t":"C"}]},"mark":{"type":"text","color":"white","fontSize":12,"fontWeight":"bold","baseline":"middle","align":"center","dy":0.5},"encoding":{"x":{"field":"x","type":"quantitative"},"y":{"field":"y","type":"quantitative"},"text":{"field":"t"}}}
   ]},
  {"width":544,"height":199,
   "title":{"text":"CE","frame":"group","anchor":"middle","baseline":"middle","offset":-23,"fontSize":14,"fontWeight":"normal","color":"#222"},
   "layer":[
   {"data":{"name":"D"},"mark":{"type":"circle","size":11,"opacity":1},
    "encoding":{
     "x":{"field":"x","type":"quantitative","scale":{"domain":[0,544],"nice":false,"zero":false},
       "axis":{"values":[26.1,48.2,66.4,86.8,106.7,126.6,143.6,153.4,166.1,181.8,200.9,220,240.4,258.2,277.7,297.6,317.6,335.8,356.2,377,384,393.5,413.4,431.3,450.4,467.3,489.8,511.9,530.1],
        "labels":false,"tickSize":7,"domain":false,"title":"Exposure","titleFontSize":14,"titleFontWeight":"normal","titlePadding":105}},
     "y":{"field":"y","type":"quantitative","scale":{"domain":[0,12],"nice":false,"zero":false},
       "axis":{"values":[0,4,8,12],"domain":true,"tickSize":7,"labelFontSize":13,"labelPadding":4,"title":"-Log₁₀(P)","titleFontSize":13,"titleFontWeight":"normal","titlePadding":12}},
     "color":{"field":"x","type":"quantitative","legend":null,"scale":{"type":"threshold",
       "domain":[38,57.3,75,96.8,115,136,148,169.5,183,190,212.1,233.5,248,266,285,307.5,328,350,370,381,383,405.5,420,440.5,459,479.5,502,525],
       "range":["#c8303f","#cc3b4b","#d34b53","#da5c58","#df6c5c","#e47e5e","#ea9862","#eeac68","#f2c172","#f5d27e","#1c2a84","#203592","#25439b","#2a50a0","#2e5da4","#326aa7","#3676ab","#3982af","#3c8eb3","#3e9ab7","#3fa5bb","#42afbf","#49b8c3","#52bfc7","#1f6630","#237537","#29843f","#309347","#3aa151"]}}}},
   {"data":{"values":[{}]},"mark":{"type":"rule","color":"#f2836f","strokeWidth":1.8},"encoding":{"y":{"datum":4.64}}},
   {"data":{"values":[{}]},"mark":{"type":"rule","color":"#6d88d6","strokeWidth":1.8},"encoding":{"y":{"datum":1.301}}},
   {"data":{"values":[{"a":26.1,"b":530.1}]},"mark":{"type":"rule","color":"#2a2a2a","strokeWidth":1.5},"encoding":{"x":{"field":"a","type":"quantitative"},"x2":{"field":"b"},"y":{"datum":0}}},
   {"data":{"name":"L"},"mark":{"type":"text","angle":60,"align":"left","baseline":"middle","fontSize":12,"color":"#222","yOffset":10},"encoding":{"x":{"field":"d","type":"quantitative"},"y":{"datum":0},"text":{"field":"t"}}},
   {"data":{"values":[{"x":220,"t":"Occupation and\nwork environment"}]},"mark":{"type":"text","angle":60,"align":"left","baseline":"middle","fontSize":8,"lineHeight":8.5,"lineBreak":"\n","color":"#222","yOffset":10},"encoding":{"x":{"field":"x","type":"quantitative"},"y":{"datum":0},"text":{"field":"t"}}},
   {"data":{"values":[{"x":594,"y":-6.09,"t":"D"}]},"mark":{"type":"circle","size":200,"color":"#111","opacity":1},"encoding":{"x":{"field":"x","type":"quantitative"},"y":{"field":"y","type":"quantitative"}}},
   {"data":{"values":[{"x":594,"y":-6.09,"t":"D"}]},"mark":{"type":"text","color":"white","fontSize":12,"fontWeight":"bold","baseline":"middle","align":"center","dy":0.5},"encoding":{"x":{"field":"x","type":"quantitative"},"y":{"field":"y","type":"quantitative"},"text":{"field":"t"}}}
   ]}
  ]}
 ]}
]
}
